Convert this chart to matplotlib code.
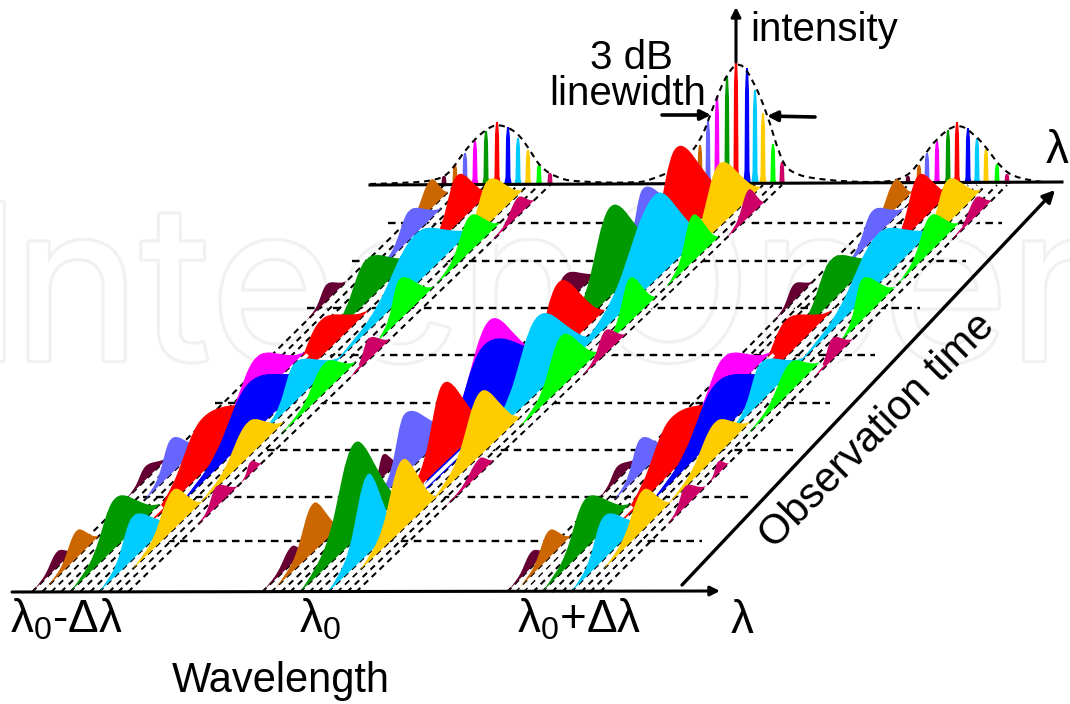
import numpy as np
import matplotlib
matplotlib.use("Agg")
import matplotlib.pyplot as plt
from matplotlib.path import Path
from matplotlib.patches import PathPatch
import matplotlib.patheffects as pe

plt.rcParams['font.family'] = ['Liberation Sans', 'DejaVu Sans']
plt.rcParams['mathtext.default'] = 'regular'

# eleven longitudinal modes
MODE_COLORS = ['#660033', '#CC6600', '#6666FF', '#FF00FF', '#009900', '#FF0000',
               '#0000FF', '#00CCFF', '#FFCC00', '#00FF00', '#CC0066']
# mode position on the wavelength axis at start (t=0) and end of observation
G1_START = [32, 42, 51, 61, 70, 80, 90, 99, 109, 118, 128]
G1_END = [444, 455, 465, 475, 486, 497, 508, 518, 528, 539, 550]
G2_START = [262, 271, 281, 290, 300, 309, 318, 328, 337, 347, 356]
G2_END = [690, 700, 708, 717, 727, 736, 747, 755, 763, 773, 782]
G3_START = [507, 515, 523, 533, 542, 552, 562, 571, 581, 590, 600]
G3_END = [908, 919, 927, 937, 948, 957, 968, 977, 986, 997, 1007]
T_MAX = 407

# time-averaged spectra at the back wall
G1_SPEC = [8, 19, 31, 43, 53, 62, 57, 46, 34, 20, 11]
G2_SPEC = [12, 39, 63, 88, 108, 125, 116, 94, 71, 40, 22]
G3_SPEC = [8, 19, 31, 43, 54, 62, 56, 46, 35, 20, 10]

ENV_X = [370, 410, 437, 450, 467, 487, 500, 517, 530, 540, 557, 577, 637,
         650, 675, 700, 713, 727, 740, 753, 767, 780, 790, 820, 880,
         907, 923, 937, 957, 973, 987, 1000, 1017, 1043]
ENV_I = [0, 1, 4, 11, 37, 56, 60, 52, 34, 17, 6, 2, 1,
         4, 14, 41, 77, 111, 123, 104, 71, 27, 11, 4, 1,
         6, 27, 46, 61, 51, 36, 17, 5, 2]

# blob outlines as fractions of rise and fall: (time fraction, height fraction)
RISE_U = [0.0, 0.3, 0.55, 0.72, 0.85, 1.0]
RISE_V = [0.0, 0.08, 0.28, 0.63, 0.9, 1.0]
FALL_U = [0.2, 0.45, 0.7, 0.85, 1.0]
FALL_V = [0.88, 0.56, 0.25, 0.1, 0.0]

# intensity bursts, back to front: mode, t start, t peak, t end, peak height
G1_BURSTS = [
    (1, 350, 383, 400, 30), (2, 322, 352, 384, 30), (5, 335, 368, 400, 50),
    (8, 335, 368, 402, 45), (10, 350, 376, 392, 19),
    (0, 271, 291, 311, 17), (4, 245, 290, 336, 44), (5, 185, 235, 282, 38),
    (7, 225, 308, 365, 52), (9, 307, 340, 369, 37), (9, 250, 272, 305, 42),
    (10, 214, 232, 253, 22),
    (0, 92, 112, 135, 14), (2, 92, 118, 148, 36), (3, 140, 192, 240, 44),
    (5, 55, 120, 200, 56), (6, 85, 155, 225, 56), (7, 158, 190, 235, 40),
    (9, 157, 200, 230, 30), (10, 108, 118, 129, 13), (8, 85, 135, 170, 36),
    (10, 67, 85, 106, 21),
    (0, 0, 25, 42, 16), (1, 5, 34, 56, 28), (4, 0, 44, 88, 51),
    (7, 0, 33, 72, 44), (8, 22, 62, 90, 41),
]
G2_BURSTS = [
    (2, 320, 345, 385, 60), (5, 305, 350, 400, 97), (8, 325, 365, 405, 65),
    (10, 354, 375, 390, 28),
    (0, 260, 288, 320, 30), (4, 245, 296, 345, 92), (5, 190, 238, 282, 74),
    (7, 228, 312, 360, 88), (9, 305, 330, 355, 48), (9, 245, 270, 295, 45),
    (0, 103, 115, 130, 23), (3, 130, 190, 240, 84), (2, 90, 118, 165, 62),
    (6, 85, 158, 240, 92), (7, 140, 200, 255, 78), (9, 165, 205, 240, 53),
    (10, 216, 238, 258, 24), (5, 90, 128, 170, 83), (8, 90, 137, 175, 65),
    (10, 85, 118, 132, 16),
    (0, 0, 28, 42, 18), (1, 5, 40, 66, 50), (4, 0, 52, 95, 100),
    (7, 0, 38, 65, 82), (8, 22, 62, 95, 72),
]

# horizontal time markers: y level, left end, right end
TIME_Y = [541, 497, 450, 403, 355, 308, 261, 223]
TIME_L = [167, 143, 267, 215, 325, 307, 352, 388]
TIME_R = [702, 748, 793, 830, 875, 920, 966, 1002]

AXIS_Y = 592
BACK_Y = 184
DASH = (0, (2.9, 2.3))

fig = plt.figure(figsize=(10.7, 7.04), dpi=100)
ax = fig.add_axes([0, 0, 1, 1])
ax.set_xlim(0, 1070)
ax.set_ylim(704, 0)
ax.axis('off')

# watermark
for wx, word in [(-36, 'I'), (13, 'ntechOpen')]:
    ax.text(wx, 360, word, fontsize=155, family='Inter', color='white',
            va='baseline', ha='left', zorder=0, clip_on=True,
            path_effects=[pe.withStroke(linewidth=4.5, foreground='#f1f1f1')])


def smooth_path(pts, close=False):
    pts = np.asarray(pts, float)
    verts = [pts[0]]
    codes = [Path.MOVETO]
    for i in range(1, len(pts) - 1):
        end = pts[i + 1] if i == len(pts) - 2 else (pts[i] + pts[i + 1]) / 2
        verts += [pts[i], end]
        codes += [Path.CURVE3, Path.CURVE3]
    if close:
        verts += [pts[0]]
        codes += [Path.CLOSEPOLY]
    return Path(verts, codes)


def burst_profile(t0, tp, t1, hp):
    ts = [t0 + u * (tp - t0) for u in RISE_U] + [tp + u * (t1 - tp) for u in FALL_U]
    hs = [v * hp for v in RISE_V] + [v * hp for v in FALL_V]
    return np.array(ts), np.array(hs)


z = 2


def draw_group(start, end, bursts, spec):
    global z
    start = np.array(start, float)
    end = np.array(end, float)
    slope = (end - start) / T_MAX
    for m in range(len(start)):
        ax.plot([start[m], end[m]], [AXIS_Y, AXIS_Y - T_MAX], color='k', lw=1.5,
                ls=DASH, zorder=1.5)
    for m, h in enumerate(spec):
        hw = [3.8, 2.5, 2.0, 1.0]
        hv = [0, 0.12, 0.8, 1]
        xs = [end[m] - w for w in hw] + [end[m] + w for w in hw[::-1]]
        ys = [BACK_Y - v * h for v in hv] + [BACK_Y - v * h for v in hv[::-1]]
        ax.fill(xs, ys, color=MODE_COLORS[m], lw=0, zorder=1.7)
    for m, t0, tp, t1, hp in bursts:
        ts, hs = burst_profile(t0, tp, t1, hp)
        xs = start[m] + slope[m] * ts
        ys = AXIS_Y - ts - hs
        z += 0.01
        ax.plot([xs[0] + 2.5, xs[-1] + 2.5], [ys[0] + 2.5, ys[-1] + 2.5], color='white',
                lw=2.6, zorder=z, solid_capstyle='butt')
        z += 0.01
        ax.add_patch(PathPatch(smooth_path(np.column_stack([xs, ys]), close=True),
                               facecolor=MODE_COLORS[m], edgecolor='none', lw=0, zorder=z))


for y, l, r in zip(TIME_Y, TIME_L, TIME_R):
    ax.plot([l, r], [y, y], color='k', lw=1.7, ls=(0, (3.2, 2.3)), zorder=1.2)

ax.plot([370, 1062], [185, 182], color='k', lw=2.2, zorder=1.8)
ax.add_patch(PathPatch(smooth_path(np.column_stack([ENV_X, BACK_Y - np.array(ENV_I)])),
                       facecolor='none', edgecolor='k', lw=1.5, ls=DASH, zorder=1.9))

draw_group(G1_START, G1_END, G1_BURSTS, G1_SPEC)
draw_group(G2_START, G2_END, G2_BURSTS, G2_SPEC)
draw_group(G3_START, G3_END, G1_BURSTS, G3_SPEC)


def arrow(p0, p1, lw=2.2, ms=14):
    ax.annotate('', xy=p1, xytext=p0, zorder=8,
                arrowprops=dict(arrowstyle='-|>', color='k', lw=lw, mutation_scale=ms,
                                shrinkA=0, shrinkB=0))


arrow((12, 592), (720, 591))
arrow((682, 585), (1055, 190), lw=2.4, ms=18)
arrow((1040, 183), (1072, 182))
arrow((736, 62), (736, 7))
arrow((662, 115), (711, 115), lw=2.6, ms=15)
arrow((815, 117), (767, 116), lw=2.6, ms=15)

FS = 29
ax.text(750, 30, 'intensity', fontsize=FS, ha='left', va='center')
ax.text(631, 58, '3 dB', fontsize=FS, ha='center', va='center')
ax.text(628, 94, 'linewidth', fontsize=FS, ha='center', va='center')
ax.text(281, 681, 'Wavelength', fontsize=30, ha='center', va='center')
ax.text(877, 431, 'Observation time', fontsize=30, ha='center', va='center',
        rotation=45, rotation_mode='anchor')
ax.text(10, 633, 'λ$_0$-Δλ', fontsize=33, ha='left', va='baseline')
ax.text(299, 633, 'λ$_0$', fontsize=33, ha='left', va='baseline')
ax.text(517, 633, 'λ$_0$+Δλ', fontsize=33, ha='left', va='baseline')
ax.text(731, 633, 'λ', fontsize=33, ha='left', va='baseline')
ax.text(1046, 163, 'λ', fontsize=33, ha='left', va='baseline')

fig.savefig('out.png', dpi=100)
